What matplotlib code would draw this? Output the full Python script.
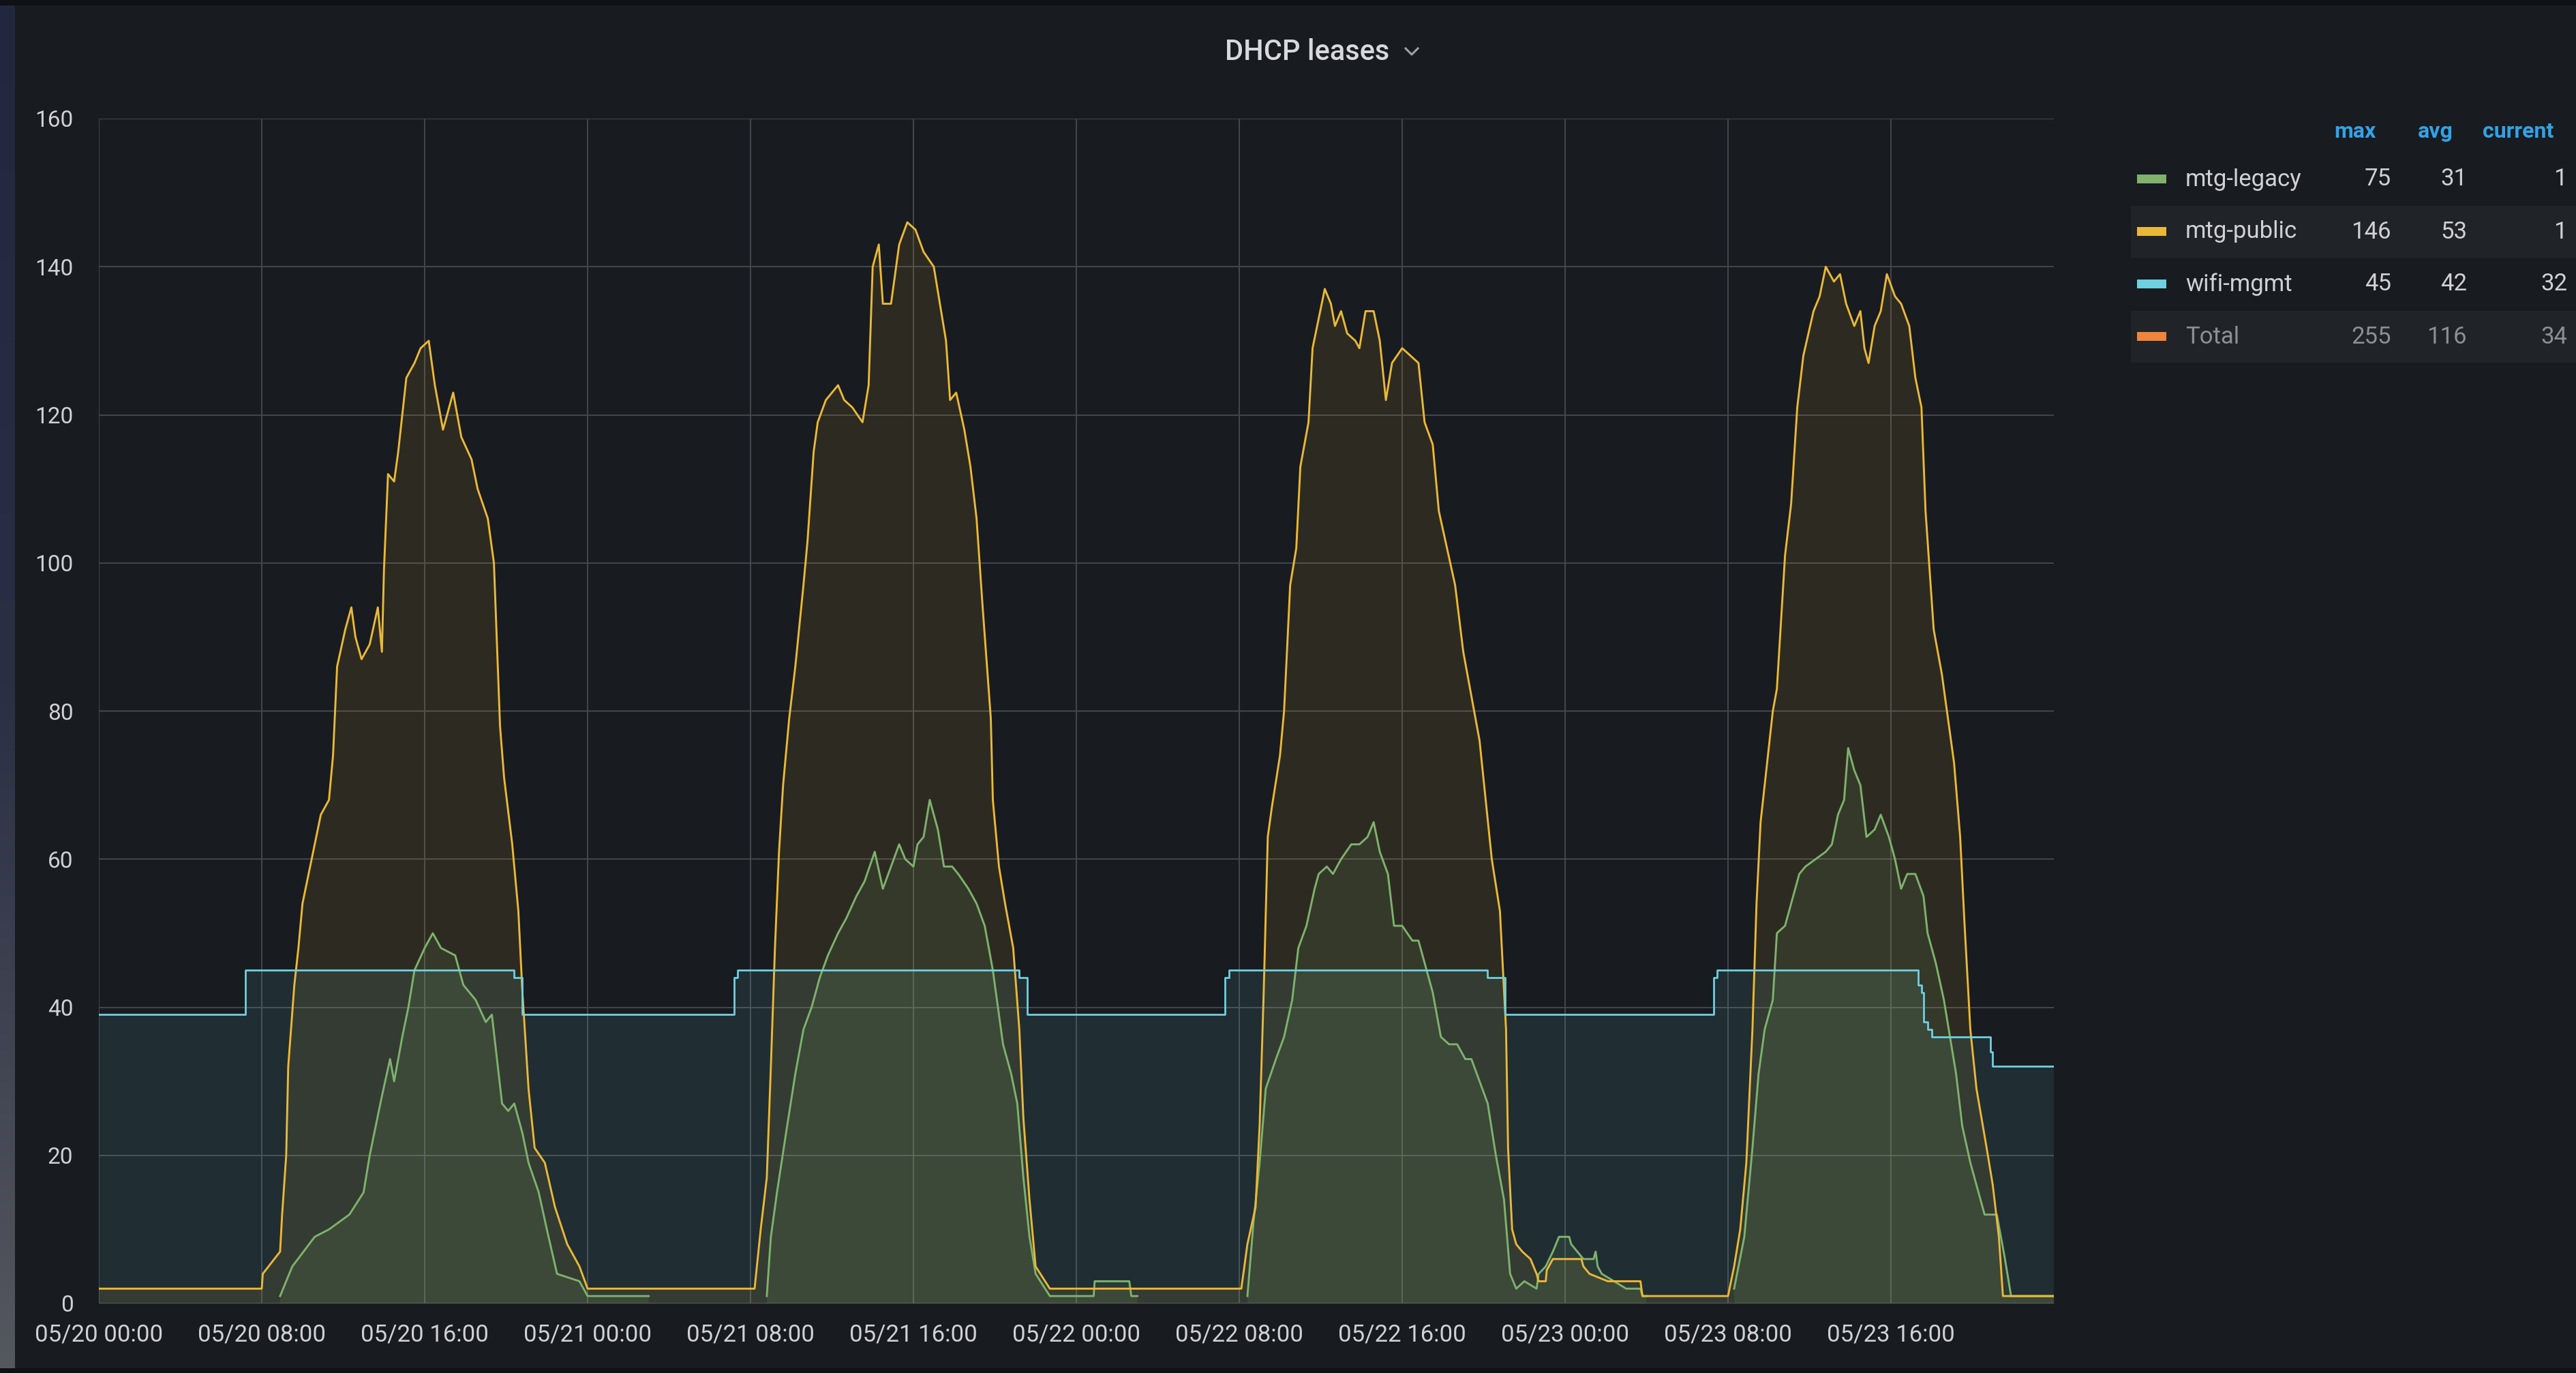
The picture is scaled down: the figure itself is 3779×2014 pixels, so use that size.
import numpy as np
import matplotlib
matplotlib.use("Agg")
import matplotlib.pyplot as plt
from matplotlib.lines import Line2D
from matplotlib.patches import Rectangle

plt.rcParams['font.family'] = ['Roboto', 'DejaVu Sans']

# ---------------- data (hours since 05/20 00:00) ----------------
public_hours = [0, 8.0, 8.05, 8.9, 9.0, 9.2, 9.3, 9.6, 9.8, 10.0, 10.6, 10.9, 11.3, 11.5, 11.7, 12.1, 12.4, 12.6,
                12.9, 13.3, 13.7, 13.9, 14.0, 14.2, 14.5, 14.7, 15.1, 15.5, 15.8, 16.2, 16.5, 16.9, 17.4, 17.8,
                18.3, 18.6, 19.1, 19.4, 19.7, 19.9, 20.3, 20.6, 20.8, 21.1, 21.4, 21.9, 22.4, 23.0, 23.6, 24.0,
                32.2, 32.5, 32.8, 33.0, 33.2, 33.4, 33.6, 33.9, 34.2, 34.6, 34.8, 35.1, 35.3, 35.7, 36.3, 36.6,
                37.0, 37.5, 37.8, 38.0, 38.3, 38.5, 38.9, 39.3, 39.7, 40.1, 40.5, 41.0, 41.3, 41.6, 41.8, 42.1,
                42.5, 42.8, 43.1, 43.4, 43.8, 43.9, 44.2, 44.5, 44.9, 45.2, 45.4, 45.7, 46.0, 46.7,
                56.1, 56.4, 56.8, 57.0, 57.2, 57.4, 57.6, 58.0, 58.2, 58.5, 58.8, 59.0, 59.4, 59.6, 59.9, 60.2,
                60.5, 60.7, 61.0, 61.3, 61.7, 61.9, 62.2, 62.6, 62.9, 63.2, 63.5, 64.0, 64.4, 64.8, 65.1, 65.5,
                65.8, 66.2, 66.6, 67.0, 67.4, 67.8, 68.1, 68.4, 68.8, 69.1, 69.2, 69.4, 69.6, 69.9, 70.3, 70.6,
                70.7, 71.05, 71.1, 71.4, 72.8, 72.9, 73.2, 74.1, 75.7, 75.8,
                80.0, 80.3, 80.6, 80.9, 81.2, 81.4, 81.6, 81.8, 82.2, 82.4, 82.6, 82.8, 83.1, 83.4, 83.7, 84.2,
                84.5, 84.8, 85.2, 85.5, 85.8, 86.2, 86.5, 86.7, 86.9, 87.2, 87.5, 87.8, 88.2, 88.5, 88.9, 89.2,
                89.5, 89.7, 89.9, 90.1, 90.5, 90.8, 91.1, 91.4, 91.6, 91.9, 92.2, 92.7, 93.0, 93.3, 93.5, 96.0]
public_vals = [2, 2, 4, 7, 12, 20, 32, 43, 48, 54, 62, 66, 68, 74, 86, 91, 94, 90,
               87, 89, 94, 88, 99, 112, 111, 115, 125, 127, 129, 130, 124, 118, 123, 117,
               114, 110, 106, 100, 78, 71, 62, 53, 42, 29, 21, 19, 13, 8, 5, 2,
               2, 10, 17, 32, 48, 61, 70, 79, 86, 97, 103, 115, 119, 122, 124, 122,
               121, 119, 124, 140, 143, 135, 135, 143, 146, 145, 142, 140, 135, 130, 122, 123,
               118, 113, 106, 94, 79, 68, 59, 54, 48, 37, 25, 14, 5, 2,
               2, 8, 13, 24, 42, 63, 67, 74, 80, 97, 102, 113, 119, 129, 133, 137,
               135, 132, 134, 131, 130, 129, 134, 134, 130, 122, 127, 129, 128, 127, 119, 116,
               107, 102, 97, 88, 82, 76, 68, 60, 53, 37, 21, 10, 8, 7, 6, 4,
               3, 3, 4.5, 6, 6, 5, 4, 3, 3, 1,
               1, 5, 10, 19, 37, 54, 65, 70, 80, 83, 92, 101, 108, 121, 128, 134,
               136, 140, 138, 139, 135, 132, 134, 129, 127, 132, 134, 139, 136, 135, 132, 125,
               121, 107, 99, 91, 85, 79, 73, 63, 52, 37, 29, 21, 16, 9, 1, 1]

nan = float('nan')
legacy_hours = [8.9, 9.5, 10.6, 11.3, 12.3, 13.0, 13.3, 13.6, 13.9, 14.3, 14.5, 14.9, 15.2, 15.5, 16.0, 16.4,
                16.8, 17.5, 17.9, 18.5, 19.0, 19.3, 19.8, 20.1, 20.4, 20.8, 21.1, 21.6, 22.0, 22.5, 23.6, 24.0,
                27.0, 27.05,
                32.8, 33.0, 33.3, 33.8, 34.2, 34.6, 35.0, 35.4, 35.8, 36.3, 36.7, 37.2, 37.6, 38.1, 38.5, 38.9,
                39.3, 39.6, 40.0, 40.2, 40.5, 40.8, 41.2, 41.5, 41.9, 42.2, 42.7, 43.1, 43.5, 43.9, 44.4, 44.8,
                45.1, 45.4, 45.7, 46.0, 46.7, 48.85, 48.9, 50.6, 50.7, 51.0, 51.05,
                56.4, 56.7, 57.0, 57.3, 57.8, 58.2, 58.6, 58.9, 59.3, 59.7, 59.9, 60.3, 60.6, 61.0, 61.5, 61.9,
                62.3, 62.6, 62.9, 63.3, 63.6, 64.0, 64.5, 64.8, 65.2, 65.5, 65.9, 66.3, 66.7, 67.1, 67.4, 67.8,
                68.2, 68.6, 69.0, 69.3, 69.6, 70.0, 70.6, 70.7, 71.05, 71.4, 71.7, 72.2, 72.3, 72.6, 72.9, 73.4,
                73.5, 73.6, 73.8, 74.4, 75.0, 75.7, 75.8, 76.0, 76.05,
                80.3, 80.8, 81.2, 81.5, 81.8, 82.2, 82.4, 82.8, 83.1, 83.5, 83.8, 84.3, 84.8, 85.1, 85.4, 85.7,
                85.9, 86.2, 86.5, 86.8, 87.2, 87.5, 87.9, 88.2, 88.5, 88.8, 89.2, 89.6, 89.8, 90.2, 90.6, 90.9,
                91.2, 91.5, 91.9, 92.3, 92.6, 93.2, 93.6, 93.9, 96.0]
legacy_vals = [1, 5, 9, 10, 12, 15, 20, 24, 28, 33, 30, 36, 40, 45, 48, 50,
               48, 47, 43, 41, 38, 39, 27, 26, 27, 23, 19, 15, 10, 4, 3, 1,
               1, nan,
               1, 9, 15, 24, 31, 37, 40, 44, 47, 50, 52, 55, 57, 61, 56, 59,
               62, 60, 59, 62, 63, 68, 64, 59, 59, 58, 56, 54, 51, 45, 35, 31,
               27, 17, 9, 4, 1, 1, 3, 3, 1, 1, nan,
               1, 11, 19, 29, 33, 36, 41, 48, 51, 56, 58, 59, 58, 60, 62, 62,
               63, 65, 61, 58, 51, 51, 49, 49, 45, 42, 36, 35, 35, 33, 33, 30,
               27, 20, 14, 4, 2, 3, 2, 4, 5, 7, 9, 9, 8, 7, 6, 6,
               7, 5, 4, 3, 2, 2, 1, 1, nan,
               2, 9, 21, 31, 37, 41, 50, 51, 54, 58, 59, 60, 61, 62, 66, 68,
               75, 72, 70, 63, 64, 66, 63, 60, 56, 58, 58, 55, 50, 46, 41, 36,
               31, 24, 19, 15, 12, 12, 6, 1, 1]

wifi_hours = [0, 7.2, 20.4, 20.8, 31.2, 31.35, 45.2, 45.6, 55.3, 55.5, 68.2, 69.05, 79.3, 79.45,
              89.33, 89.5, 89.6, 89.8, 90.0, 92.9, 93.0, 96.0]
wifi_vals = [39, 45, 44, 39, 44, 45, 44, 39, 44, 45, 44, 39, 44, 45,
             43, 42, 38, 37, 36, 34, 32, 32]

tick_hours = [0, 8, 16, 24, 32, 40, 48, 56, 64, 72, 80, 88]
tick_labels = ['05/20 00:00', '05/20 08:00', '05/20 16:00', '05/21 00:00', '05/21 08:00', '05/21 16:00',
               '05/22 00:00', '05/22 08:00', '05/22 16:00', '05/23 00:00', '05/23 08:00', '05/23 16:00']
y_ticks = [0, 20, 40, 60, 80, 100, 120, 140, 160]

legend_names = ['mtg-legacy', 'mtg-public', 'wifi-mgmt', 'Total']
legend_max = ['75', '146', '45', '255']
legend_avg = ['31', '53', '42', '116']
legend_cur = ['1', '1', '32', '34']
legend_cols = ['max', 'avg', 'current']

# ---------------- styling ----------------
W, H, DPI = 3780, 2014, 100
BG = '#181b1f'
GREEN, YELLOW, CYAN, ORANGE = '#7EB26D', '#EAB839', '#6ED0E0', '#EF843C'
GRID = '#44474e'
TXT = '#d0d1d6'

fig = plt.figure(figsize=(W / DPI, H / DPI), dpi=DPI, facecolor=BG)

def fx(x):
    return x / W

def fy(y):
    return 1 - y / H

# page edges
grad = fig.add_axes([0, 0, fx(22), 1])
grad.imshow(np.linspace(0, 1, 256).reshape(-1, 1), aspect='auto',
            cmap=matplotlib.colors.LinearSegmentedColormap.from_list('g', ['#222740', '#2a2f44', '#55585f']),
            extent=[0, 1, 1, 0])
grad.set_axis_off()
fig.add_artist(Rectangle((0, fy(8)), 1, fy(0) - fy(8), transform=fig.transFigure, color='#101115', lw=0))
fig.add_artist(Rectangle((0, 0), 1, 7 / H, transform=fig.transFigure, color='#101115', lw=0))

ax = fig.add_axes([fx(145), fy(1912), fx(3013) - fx(145), fy(174) - fy(1912)])
ax.set_facecolor(BG)

ph = np.array(public_hours, dtype=float)
pv = np.array(public_vals, dtype=float)
lh = np.array(legacy_hours, dtype=float)
lv = np.array(legacy_vals, dtype=float)
wh = np.array(wifi_hours, dtype=float)
wv = np.array(wifi_vals, dtype=float)

ax.fill_between(wh, wv, 0, step='post', color=CYAN, alpha=0.10, lw=0)
ax.fill_between(ph, pv, 0, color=YELLOW, alpha=0.10, lw=0)
ax.fill_between(lh, lv, 0, color=GREEN, alpha=0.11, lw=0)

ax.plot(lh, lv, color=GREEN, lw=2.1, zorder=3)
ax.plot(ph, pv, color=YELLOW, lw=2.1, zorder=4)
ax.step(wh, wv, where='post', color=CYAN, lw=2.0, zorder=5)

ax.set_xlim(0, 96)
ax.set_ylim(0, 160)
ax.set_xticks(tick_hours)
ax.set_xticklabels(tick_labels)
ax.set_yticks(y_ticks)
ax.grid(True, color=GRID, lw=1.4)
ax.set_axisbelow(True)
for s in ax.spines.values():
    s.set_visible(False)
ax.tick_params(axis='both', length=0, colors=TXT, labelsize=24)
ax.tick_params(axis='x', pad=21, labelsize=25)
ax.tick_params(axis='y', pad=27)

# title
fig.text(fx(1918), fy(88), 'DHCP leases', ha='center', va='baseline', color='#d8d9de',
         fontsize=30, fontweight='medium')
fig.add_artist(Line2D([fx(2062), fx(2071), fx(2080)], [fy(71), fy(80), fy(71)],
                      transform=fig.transFigure, color='#9fa0a8', lw=2.2))

# legend table
hdr_right = [3486, 3599, 3746]
num_right = [3508, 3619, 3766]
row_y = [263, 340, 417, 494]
for xr, name in zip(hdr_right, legend_cols):
    fig.text(fx(xr), fy(193), name, ha='right', va='center', color='#33a2e5',
             fontsize=23, fontweight='bold')
colors = [GREEN, YELLOW, CYAN, ORANGE]
for i, (name, c) in enumerate(zip(legend_names, colors)):
    y = row_y[i]
    if i % 2 == 1:
        fig.add_artist(Rectangle((fx(3126), fy(y + 38)), fx(3780) - fx(3126), (76) / H,
                                 transform=fig.transFigure, color='#202328', lw=0, zorder=0))
    fig.add_artist(Rectangle((fx(3135), fy(y + 6)), fx(43), 13 / H,
                             transform=fig.transFigure, color=c, lw=0))
    tc = '#8e8f94' if name == 'Total' else TXT
    fig.text(fx(3206), fy(y), name, ha='left', va='center', color=tc, fontsize=25)
    for xr, v in zip(num_right, [legend_max[i], legend_avg[i], legend_cur[i]]):
        fig.text(fx(xr), fy(y), v, ha='right', va='center', color=tc, fontsize=25)

fig.savefig('out.png', dpi=DPI, facecolor=BG)
